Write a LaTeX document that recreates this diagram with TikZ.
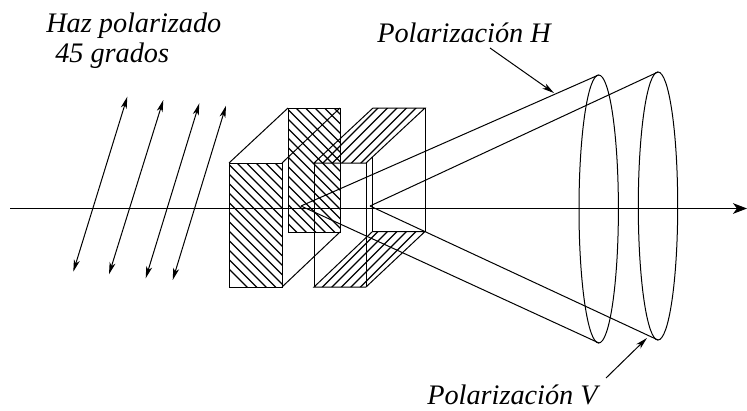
\documentclass[tikz,border=0pt]{standalone}
\usepackage{fontspec}
\setmainfont{Liberation Serif}
\usetikzlibrary{arrows.meta}
\tikzset{
  x=0.75pt,y=-0.75pt,
  ln/.style={line width=0.75pt,black},
  hl/.style={line width=0.85pt,black},
  arr/.style={ln,-{Stealth[length=9pt,width=4.5pt,inset=2.5pt]}},
  arrb/.style={ln,{Stealth[length=9pt,width=4.5pt,inset=2.5pt]}-{Stealth[length=9pt,width=4.5pt,inset=2.5pt]}},
  lab/.style={font=\itshape\fontsize{21.2pt}{24pt}\selectfont,inner sep=0pt,anchor=base west},
}
\newcommand\hatchdown{\foreach \i in {0,1,...,45} \draw[hl] ({50+9.5*\i},90) -- ++(220,220);}
\newcommand\hatchup{\foreach \i in {0,1,...,45} \draw[hl] ({100+9.5*\i},310) -- ++(220,-220);}
\begin{document}
\begin{tikzpicture}
\useasboundingbox (0,0) rectangle (747,411);
% coordinates
\coordinate (A1) at (301,206); \coordinate (A2) at (370,206);
\coordinate (T1) at (598.5,75); \coordinate (B1) at (599,343);
\coordinate (T2) at (658,72); \coordinate (B2) at (658,340);
\coordinate (L) at (10,208.5); \coordinate (R) at (747,208.5);
% back box 1 + front box 1
\begin{scope}\clip (288,108) rectangle (340,232); \hatchdown\end{scope}
\draw[ln] (288,108) rectangle (340,232);
\draw[ln] (229,163) -- (288,108) (282,163) -- (340,108) (282,287) -- (340,232);
\begin{scope}\clip (229,163) rectangle (282,287); \hatchdown\end{scope}
\draw[ln] (229,163) rectangle (282,287);
% box 2
\begin{scope}\clip (314,163) -- (366,163) -- (425,108) -- (373,108) -- cycle; \hatchup\end{scope}
\draw[ln] (314,163) -- (366,163) -- (425,108) -- (373,108) -- cycle;
\begin{scope}\clip (314,287) -- (366,287) -- (425,231.5) -- (372.5,231.5) -- cycle; \hatchup\end{scope}
\draw[ln] (314,287) -- (366,287) -- (425,231.5) -- (372.5,231.5) -- cycle;
\draw[ln] (314,163) -- (314,287) (366,163) -- (366,287) (372.5,157) -- (372.5,231.5) (425,108) -- (425,231.5);
% axis
\draw[ln,-{Stealth[length=10.5pt,width=8pt,inset=3pt]}] (L) -- (R);
% cones
\draw[ln] (A1) -- (T1) (A1) -- (B1) (A2) -- (T2) (A2) -- (B2);
\draw[ln] (598.7,209) ellipse (19.7 and 134);
\draw[ln] (658,206) ellipse (19.7 and 134);
% polarisation arrows
\coordinate (p1a) at (73.3,271.7); \coordinate (p1b) at (127.3,96.7);
\coordinate (p2a) at (109,274.3); \coordinate (p2b) at (163.3,100);
\coordinate (p3a) at (145.7,278.3); \coordinate (p3b) at (199.3,103.3);
\coordinate (p4a) at (172.7,280); \coordinate (p4b) at (226,105.7);
\draw[arrb] (p1a) -- (p1b);
\draw[arrb] (p2a) -- (p2b);
\draw[arrb] (p3a) -- (p3b);
\draw[arrb] (p4a) -- (p4b);
% labels
\node[lab] (t1) at (46,32) {Haz polarizado};
\node[lab] (t2) at (55,62) {45 grados};
\node[lab] (t3) at (377,42) {Polarización H};
\node[lab] (t4) at (427,404) {Polarización V};
\coordinate (h1) at (490,48); \coordinate (h2) at (554,93);
\coordinate (v1) at (606,378); \coordinate (v2) at (647,338);
\draw[arr] (h1) -- (h2);
\draw[arr] (v1) -- (v2);
\end{tikzpicture}
\end{document}
